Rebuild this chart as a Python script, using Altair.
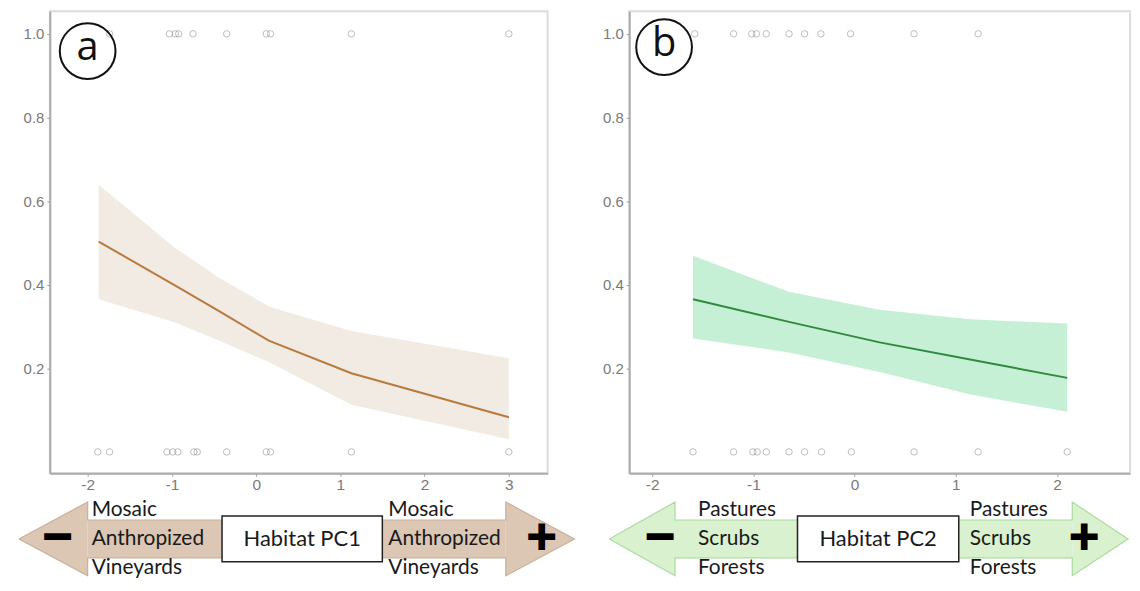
import altair as alt
import pandas as pd

# ---------------- data ----------------
# Panel (a): Habitat PC1
pc1_x = [-1.87, -0.97, -0.45, 0.15, 1.13, 3.0]
pc1_fit = [0.503, 0.399, 0.338, 0.266, 0.188, 0.083]
pc1_lo = [0.365, 0.310, 0.267, 0.215, 0.113, 0.030]
pc1_hi = [0.639, 0.489, 0.418, 0.348, 0.289, 0.224]
pc1_obs_x0 = [-1.88, -1.74, -1.06, -0.99, -0.93, -0.74, -0.70, -0.35, 0.12, 0.17, 1.13, 3.0]
pc1_obs_x1 = [-1.74, -1.03, -0.96, -0.92, -0.75, -0.35, 0.12, 0.17, 1.13, 3.0]

# Panel (b): Habitat PC2
pc2_x = [-1.596, -0.648, 0.247, 1.141, 2.10]
pc2_fit = [0.365, 0.311, 0.262, 0.221, 0.177]
pc2_lo = [0.271, 0.238, 0.191, 0.137, 0.096]
pc2_hi = [0.469, 0.383, 0.340, 0.317, 0.307]
pc2_obs_x0 = [-1.596, -1.195, -1.005, -0.962, -0.873, -0.648, -0.494, -0.326, -0.032, 0.587, 1.22, 2.10]
pc2_obs_x1 = [-1.578, -1.195, -1.016, -0.970, -0.873, -0.648, -0.494, -0.333, -0.040, 0.587, 1.22]

y_ticks = [0.2, 0.4, 0.6, 0.8, 1.0]
pc1_ticks = [-2, -1, 0, 1, 2, 3]
pc2_ticks = [-2, -1, 0, 1, 2]

panel_tags = ["a", "b"]
pc1_terms = ["Mosaic", "Anthropized", "Vineyards"]
pc2_terms = ["Pastures", "Scrubs", "Forests"]
axis_names = ["Habitat PC1", "Habitat PC2"]
signs = ["\u2212", "+"]

# ---------------- styling ----------------
LABEL_FONT = "Liberation Sans"
TERM_FONT = "Lato"
GRAY = "#7a7a7a"
PLOT_H = 464


def plot_panel(xs, fit, lo, hi, obs0, obs1, xdom, xticks, line_color, band_color, tag, width, tagpos):
    fit_df = pd.DataFrame({"x": xs, "fit": fit, "lo": lo, "hi": hi})
    obs_df = pd.DataFrame({"x": obs0 + obs1, "y": [0.0] * len(obs0) + [1.0] * len(obs1)})
    tag_df = pd.DataFrame({"tag": [tag]})

    xaxis = alt.Axis(values=xticks, labelExpr="toString(datum.value)", title=None, grid=False,
                     domainColor="#ababab", domainWidth=2, tickColor="#9a9a9a", tickSize=3,
                     labelColor=GRAY, labelFontSize=15.5, labelFont=LABEL_FONT, labelPadding=1,
                     minExtent=18, maxExtent=18)
    yaxis = alt.Axis(values=y_ticks, format=".1f", title=None, grid=False,
                     domainColor="#ababab", domainWidth=2, tickColor="#9a9a9a", tickSize=3,
                     labelColor=GRAY, labelFontSize=15, labelFont=LABEL_FONT, labelPadding=3,
                     minExtent=41, maxExtent=41)
    xs_ = alt.Scale(domain=xdom, nice=False, zero=False)
    ys_ = alt.Scale(domain=[-0.051, 1.054], nice=False, zero=False)

    band = alt.Chart(fit_df).mark_area(color=band_color, opacity=1).encode(
        x=alt.X("x:Q", scale=xs_, axis=xaxis),
        y=alt.Y("lo:Q", scale=ys_, axis=yaxis),
        y2="hi:Q",
    )
    line = alt.Chart(fit_df).mark_line(color=line_color, strokeWidth=2).encode(
        x=alt.X("x:Q", scale=xs_, axis=xaxis),
        y=alt.Y("fit:Q", scale=ys_, axis=yaxis),
    )
    pts = alt.Chart(obs_df).mark_point(shape="circle", filled=False, size=42, strokeWidth=1,
                                       color="#6f6f6f", opacity=0.45).encode(
        x=alt.X("x:Q", scale=xs_, axis=xaxis),
        y=alt.Y("y:Q", scale=ys_, axis=yaxis),
    )
    circ = alt.Chart(tag_df).mark_point(shape="circle", filled=False, size=3136, strokeWidth=2,
                                        color="#111111", opacity=1).encode(
        x=alt.value(tagpos[0]), y=alt.value(tagpos[1])
    )
    txt = alt.Chart(tag_df).mark_text(font="Open Sans", fontSize=40, color="#111111",
                                      baseline="middle", align="center", dy=-3).encode(
        x=alt.value(tagpos[0]), y=alt.value(tagpos[1]), text="tag:N"
    )
    return alt.layer(band, line, pts, circ, txt).properties(width=width, height=PLOT_H)


def arrow_panel(terms, name, W, H, g, fill, outline):
    # g: geometry of the annotation arrow, in pixels relative to the plot origin above it
    cy, hh, sh = g["cy"], g["head"], g["shaft"]
    tl, bl, br, tr = g["tip_l"], g["base_l"], g["base_r"], g["tip_r"]
    pieces = pd.DataFrame({
        "part": ["l", "l", "s", "s", "r", "r"],
        "ax": [tl, bl, bl, br, br, tr],
        "ay1": [cy, cy - hh, cy - sh, cy - sh, cy - hh, cy],
        "ay2": [cy, cy + hh, cy + sh, cy + sh, cy + hh, cy],
    })
    outline_df = pd.DataFrame({
        "ox": [tl, bl, bl, br, br, tr, br, br, bl, bl, tl],
        "oy": [cy, cy - hh, cy - sh, cy - sh, cy - hh, cy, cy + hh, cy + sh, cy + sh, cy + hh, cy],
        "o": list(range(11)),
    })
    box_df = pd.DataFrame({"x1": [g["box_l"]], "x2": [g["box_r"]],
                           "y1": [g["box_t"]], "y2": [g["box_b"]], "name": [name]})
    rows = g["rows"]
    terms_df = pd.DataFrame({
        "t": terms + terms,
        "tx": [g["txt_l"]] * 3 + [g["txt_r"]] * 3,
        "ty": rows + rows,
    })
    sign_df = pd.DataFrame({"s": signs, "sx": [g["minus"], g["plus"]], "sy": [cy, cy]})

    xs_ = alt.Scale(domain=[0, W], nice=False, zero=False)
    ys_ = alt.Scale(domain=[H, 0], nice=False, zero=False)

    body = alt.Chart(pieces).mark_area(color=fill, opacity=1, interpolate="linear").encode(
        x=alt.X("ax:Q", scale=xs_, axis=None),
        y=alt.Y("ay1:Q", scale=ys_, axis=None),
        y2="ay2:Q",
        detail="part:N",
    )
    edge = alt.Chart(outline_df).mark_line(color=outline, strokeWidth=1.2).encode(
        x=alt.X("ox:Q", scale=xs_, axis=None),
        y=alt.Y("oy:Q", scale=ys_, axis=None),
        order=alt.Order("o:Q"),
    )
    box = alt.Chart(box_df).mark_rect(fill="white", stroke="#222222", strokeWidth=1.5).encode(
        x=alt.X("x1:Q", scale=xs_, axis=None), x2="x2:Q",
        y=alt.Y("y1:Q", scale=ys_, axis=None), y2="y2:Q",
    )
    box_txt = alt.Chart(box_df).mark_text(font=TERM_FONT, fontSize=22, color="#1a1a1a",
                                          align="center", baseline="middle").encode(
        x=alt.X("mid:Q", scale=xs_, axis=None),
        y=alt.Y("ymid:Q", scale=ys_, axis=None),
        text="name:N",
    ).transform_calculate(mid="(datum.x1 + datum.x2) / 2", ymid="(datum.y1 + datum.y2) / 2")
    term_txt = alt.Chart(terms_df).mark_text(font=TERM_FONT, fontSize=21, color="#1a1a1a",
                                             align="left", baseline="middle").encode(
        x=alt.X("tx:Q", scale=xs_, axis=None),
        y=alt.Y("ty:Q", scale=ys_, axis=None),
        text="t:N",
    )
    sign_txt = alt.Chart(sign_df).mark_text(font="DejaVu Sans", fontSize=40, fontWeight="bold",
                                            color="#000000", stroke="#000000", strokeWidth=2,
                                            align="center", baseline="middle", dy=-2).encode(
        x=alt.X("sx:Q", scale=xs_, axis=None),
        y=alt.Y("sy:Q", scale=ys_, axis=None),
        text="s:N",
    )
    return alt.layer(body, edge, box, term_txt, box_txt, sign_txt).properties(
        width=W, height=H, view=alt.ViewBackground(stroke="transparent")
    )


# arrow geometry, pixels relative to each panel's plot origin
geom_a = dict(cy=44, head=37, shaft=19, tip_l=-31, base_l=38, base_r=458, tip_r=527,
              box_l=173, box_r=334, box_t=21, box_b=67, txt_l=42, txt_r=340,
              minus=8, plus=494, rows=[15, 44, 73])
geom_b = dict(cy=44, head=37, shaft=19, tip_l=-20, base_l=46, base_r=445, tip_r=501,
              box_l=169, box_r=331, box_t=21, box_b=67, txt_l=69, txt_r=342,
              minus=31, plus=457, rows=[15, 44, 73])

plot_a = plot_panel(pc1_x, pc1_fit, pc1_lo, pc1_hi, pc1_obs_x0, pc1_obs_x1,
                    [-2.45, 3.46], pc1_ticks, "#b87a3e", "#f1ebe3", panel_tags[0], 500, (38, 40))
plot_b = plot_panel(pc2_x, pc2_fit, pc2_lo, pc2_hi, pc2_obs_x0, pc2_obs_x1,
                    [-2.226, 2.72], pc2_ticks, "#2f8a3c", "#c6f0d6", panel_tags[1], 503, (35, 36))

arrow_a = arrow_panel(pc1_terms, axis_names[0], 500, 80, geom_a, "#dbc7b4", "#c9b09a")
arrow_b = arrow_panel(pc2_terms, axis_names[1], 503, 80, geom_b, "#d9f1cf", "#aadc9b")

left = alt.vconcat(plot_a, arrow_a, spacing=0)
right = alt.vconcat(plot_b, arrow_b, spacing=0)

chart = alt.hconcat(left, right, spacing=9).properties(
    padding={"left": 0, "top": 1, "right": 0, "bottom": 0}
).configure_view(stroke="#dcdcdc", strokeWidth=2)

chart.save("out.html", embed_options={"renderer": "svg", "actions": False})
